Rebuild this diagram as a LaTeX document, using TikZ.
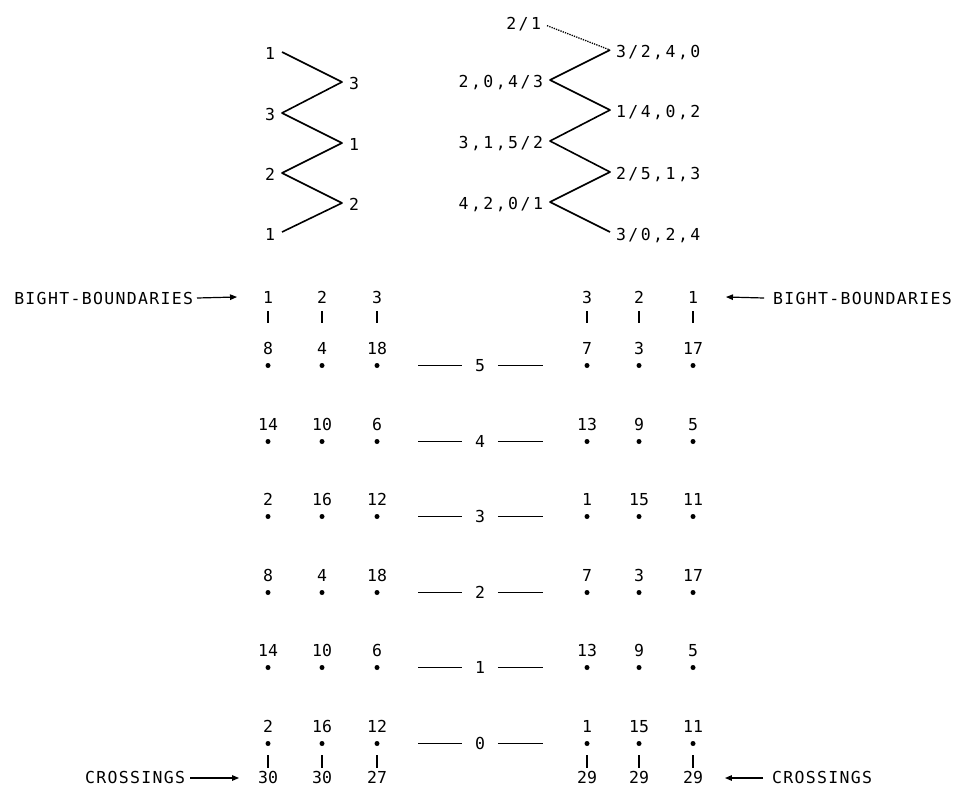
\documentclass[tikz,border=0pt]{standalone}
\usepackage{fontspec}
\newfontfamily\plotfont{DejaVu Sans Mono}
\newfontfamily\plotword[LetterSpace=8]{DejaVu Sans Mono}
\newfontfamily\plotwide[LetterSpace=15]{DejaVu Sans Mono}
\usetikzlibrary{arrows.meta}

\begin{document}
\begin{tikzpicture}[x=1pt,y=-1pt,
  every node/.style={inner sep=0pt,outer sep=0pt},
  num/.style={font={\plotfont\fontsize{16.5}{20}\selectfont},anchor=base},
  word/.style={font={\plotword\fontsize{16.5}{20}\selectfont}},
  zl/.style={font={\plotwide\fontsize{16.5}{20}\selectfont}},
  dotn/.style={circle,fill=black,minimum size=5pt},
  stroke/.style={line width=1.6pt,line join=round},
  tick/.style={line width=1.6pt},
  rule/.style={line width=1.2pt},
  pointer/.style={line width=1.2pt,-{Triangle[length=7pt,width=5.5pt]}}]

\useasboundingbox (0,0) rectangle (957,796);

% ---------- left zigzag (bight numbering) ----------
\coordinate (L0) at (282,52);
\coordinate (L1) at (342,82);
\coordinate (L2) at (282,113);
\coordinate (L3) at (342,143);
\coordinate (L4) at (282,173);
\coordinate (L5) at (342,203);
\coordinate (L6) at (282,232);
\draw[stroke] (L0) -- (L1) -- (L2) -- (L3) -- (L4) -- (L5) -- (L6);
\node[word,anchor=base east] (l0) at (275,59) {1};
\node[word,anchor=base west] (l1) at (349,89) {3};
\node[word,anchor=base east] (l2) at (275,120) {3};
\node[word,anchor=base west] (l3) at (349,150) {1};
\node[word,anchor=base east] (l4) at (275,180) {2};
\node[word,anchor=base west] (l5) at (349,210) {2};
\node[word,anchor=base east] (l6) at (275,240) {1};

% ---------- right zigzag (crossing lists) ----------
\coordinate (R0) at (610,50);
\coordinate (R1) at (550,80);
\coordinate (R2) at (610,110);
\coordinate (R3) at (550,141);
\coordinate (R4) at (610,172);
\coordinate (R5) at (550,202);
\coordinate (R6) at (610,232);
\draw[stroke] (R0) -- (R1) -- (R2) -- (R3) -- (R4) -- (R5) -- (R6);
\node[zl,anchor=base east] (top) at (541,29) {2/1};
\draw[line width=1.3pt,dash pattern=on 1.3pt off 1.1pt] ([xshift=6pt,yshift=-2pt]top.east) -- (R0);
\node[zl,anchor=base west] (r0) at (616,57) {3/2,4,0};
\node[zl,anchor=base east] (r1) at (543,87) {2,0,4/3};
\node[zl,anchor=base west] (r2) at (616,117) {1/4,0,2};
\node[zl,anchor=base east] (r3) at (543,148) {3,1,5/2};
\node[zl,anchor=base west] (r4) at (616,179) {2/5,1,3};
\node[zl,anchor=base east] (r5) at (543,209) {4,2,0/1};
\node[zl,anchor=base west] (r6) at (616,240) {3/0,2,4};

% ---------- bight boundaries ----------
\foreach \c/\x/\t in {1/268/1,2/322/2,3/377/3,4/587/3,5/639/2,6/693/1}{
  \node[num] (bb\c) at (\x,303) {\t};
  \coordinate (bt\c) at (\x,311);
  \coordinate (bu\c) at (\x,323);
  \draw[tick] (bt\c) -- (bu\c);
}
\node[word,anchor=base east] (bbl) at (193,304) {BIGHT-BOUNDARIES};
\node[word,anchor=base west] (bbr) at (773,304) {BIGHT-BOUNDARIES};
\draw[pointer] ([xshift=4pt]bbl.east) -- ([xshift=-26pt]bb1.west);
\draw[pointer] ([xshift=-9pt]bbr.west) -- ([xshift=28pt]bb6.east);

% ---------- grid of rows ----------
\foreach \r/\y/\a/\b/\c/\d/\e/\f in {
    5/365.5/8/4/18/7/3/17,
    4/441.5/14/10/6/13/9/5,
    3/516.5/2/16/12/1/15/11,
    2/592.5/8/4/18/7/3/17,
    1/667.5/14/10/6/13/9/5,
    0/743.5/2/16/12/1/15/11}{
  \node[dotn] (d\r-1) at (268,\y) {};
  \node[dotn] (d\r-2) at (322,\y) {};
  \node[dotn] (d\r-3) at (377,\y) {};
  \node[dotn] (d\r-4) at (587,\y) {};
  \node[dotn] (d\r-5) at (639,\y) {};
  \node[dotn] (d\r-6) at (693,\y) {};
  \node[num] (n\r-1) at (268,\y-11) {\a};
  \node[num] (n\r-2) at (322,\y-11) {\b};
  \node[num] (n\r-3) at (377,\y-11) {\c};
  \node[num] (n\r-4) at (587,\y-11) {\d};
  \node[num] (n\r-5) at (639,\y-11) {\e};
  \node[num] (n\r-6) at (693,\y-11) {\f};
  \node[num,anchor=center] (m\r) at (480,\y) {\r};
  \coordinate (ma\r) at (418,\y);
  \coordinate (mb\r) at (543,\y);
  \draw[rule] (ma\r) -- ([xshift=-13pt]m\r.west);
  \draw[rule] ([xshift=13pt]m\r.east) -- (mb\r);
}

% ---------- crossings ----------
\foreach \c/\x/\t in {1/268/30,2/322/30,3/377/27,4/587/29,5/639/29,6/693/29}{
  \node[num] (cr\c) at (\x,783) {\t};
  \coordinate (ct\c) at (\x,755);
  \coordinate (cu\c) at (\x,768);
  \draw[tick] (ct\c) -- (cu\c);
}
\node[word,anchor=base east] (crl) at (185,783) {CROSSINGS};
\node[word,anchor=base west] (crr) at (772,783) {CROSSINGS};
\draw[pointer] ([xshift=5pt,yshift=-1pt]crl.east) -- ([xshift=-19pt,yshift=-1pt]cr1.west);
\draw[pointer] ([xshift=-9pt,yshift=-1pt]crr.west) -- ([xshift=22pt,yshift=-1pt]cr6.east);

\end{tikzpicture}
\end{document}
